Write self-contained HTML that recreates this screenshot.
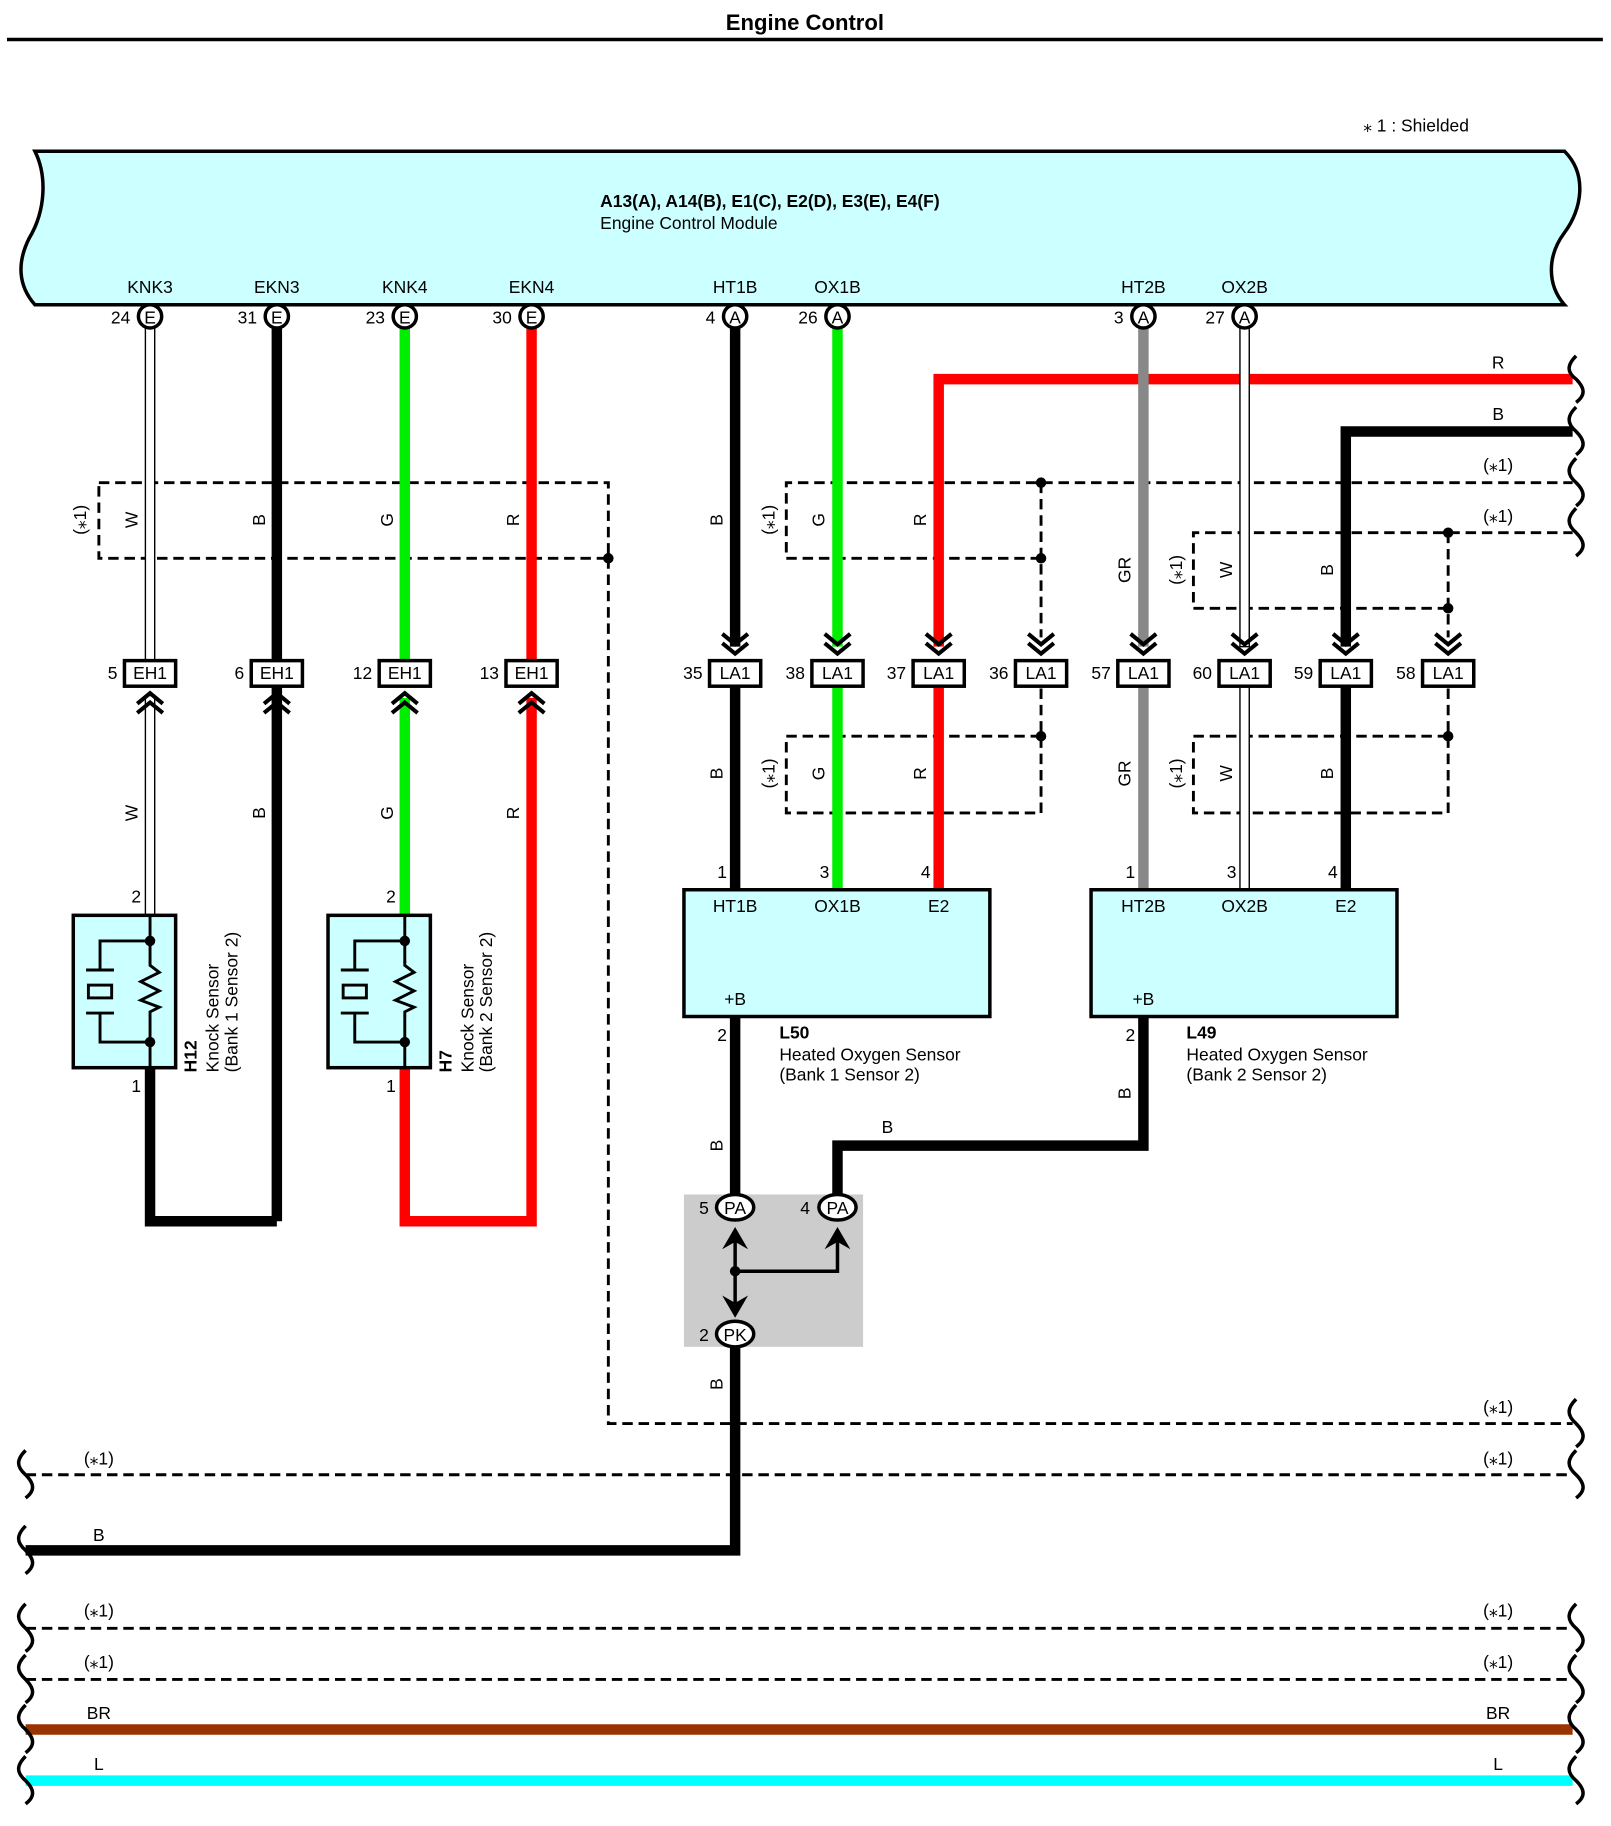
<!DOCTYPE html>
<html><head><meta charset="utf-8"><style>
html,body{margin:0;padding:0;background:#fff;}
svg{display:block;}
text{font-family:"Liberation Sans",Arial,sans-serif;font-size:15px;fill:#000;}
.b{font-weight:bold;}
.ds{fill:none;stroke:#000;stroke-width:2.5;stroke-dasharray:9,5;}
.wv{fill:none;stroke:#000;stroke-width:3;}
.ch{fill:none;stroke:#000;stroke-width:3.5;}
.bx{fill:#fff;stroke:#000;stroke-width:3;}
</style></head><body>
<svg width="1611" height="1826" viewBox="0 0 1385 1570" preserveAspectRatio="none" xmlns="http://www.w3.org/2000/svg">
<text x="692" y="26" text-anchor="middle" class="b" style="font-size:19px">Engine Control</text>
<line x1="6" y1="34" x2="1378" y2="34" stroke="#000" stroke-width="3"/>
<text x="1172" y="113">⁎ 1 : Shielded</text>

<path d="M30,130 L1345,130 C1365,150 1360,180 1345,200 C1330,220 1330,245 1345,262 L30,262 C15,245 15,225 25,205 C40,180 40,150 30,130 Z" fill="#ccffff" stroke="#000" stroke-width="3"/>
<text x="516" y="178" style="font-size:15px;font-weight:bold">A13(A), A14(B), E1(C), E2(D), E3(E), E4(F)</text>
<text x="516" y="197">Engine Control Module</text>
<g text-anchor="middle">
<text x="129" y="252">KNK3</text><text x="238" y="252">EKN3</text><text x="348" y="252">KNK4</text><text x="457" y="252">EKN4</text>
<text x="632" y="252">HT1B</text><text x="720" y="252">OX1B</text><text x="983" y="252">HT2B</text><text x="1070" y="252">OX2B</text>
</g>

<path class="ds" d="M85,415 H523 V480 H85 Z"/>
<path class="ds" d="M523,480 V1224 H1352"/>
<circle cx="523" cy="480" r="4.5"/>
<path class="ds" d="M895,480 H676 V415 H1352"/>
<path class="ds" d="M895,415 V548"/>
<circle cx="895" cy="415" r="4.5"/><circle cx="895" cy="480" r="4.5"/>
<path class="ds" d="M1245,523 H1026 V458 H1352"/>
<path class="ds" d="M1245,458 V548"/>
<circle cx="1245" cy="458" r="4.5"/><circle cx="1245" cy="523" r="4.5"/>
<path class="ds" d="M895,592 V699 H676 V633 H895"/>
<circle cx="895" cy="633" r="4.5"/>
<path class="ds" d="M1245,592 V699 H1026 V633 H1245"/>
<circle cx="1245" cy="633" r="4.5"/>
<path class="ds" d="M22,1268 H1352 M22,1400 H1352 M22,1444 H1352"/>

<g fill="none" stroke-width="9" stroke-linecap="butt">
<path stroke="#000" d="M238,282 V1050 M129,918 V1050 H238"/>
<path stroke="#00ee00" d="M348,282 V568 M348,600 V787"/>
<path stroke="#ff0000" d="M457,282 V568 M457,600 V1050 H348 V918"/>
<path stroke="#ff0000" d="M1352,326 H807 V556 M807,590 V765"/>
<path stroke="#000" d="M632,282 V556 M632,590 V765"/>
<path stroke="#00ee00" d="M720,282 V556 M720,590 V765"/>
<path stroke="#888" d="M983,282 V556 M983,590 V765"/>
<path stroke="#000" d="M1352,371 H1157 V556 M1157,590 V765"/>
<path stroke="#000" d="M632,874 V1030 M983,874 V985 H720 V1030"/>
<path stroke="#000" d="M632,1158 V1333 H22"/>
<path stroke="#993300" d="M22,1487 H1352"/>
<path stroke="#00ffff" d="M22,1531 H1352"/>
</g>
<g fill="#fff" stroke="#000" stroke-width="1.2">
<rect x="125" y="282" width="8" height="286"/>
<rect x="125" y="598" width="8" height="189"/>
<rect x="1066" y="282" width="8" height="274"/>
<rect x="1066" y="590" width="8" height="175"/>
</g>

<g fill="#fff" stroke="#000" stroke-width="3">
<circle cx="129" cy="272" r="10"/><circle cx="238" cy="272" r="10"/><circle cx="348" cy="272" r="10"/><circle cx="457" cy="272" r="10"/>
<circle cx="632" cy="272" r="10"/><circle cx="720" cy="272" r="10"/><circle cx="983" cy="272" r="10"/><circle cx="1070" cy="272" r="10"/>
</g>
<g text-anchor="middle">
<text x="129" y="278">E</text><text x="238" y="278">E</text><text x="348" y="278">E</text><text x="457" y="278">E</text>
<text x="632" y="278">A</text><text x="720" y="278">A</text><text x="983" y="278">A</text><text x="1070" y="278">A</text>
</g>
<g text-anchor="end">
<text x="112" y="278">24</text><text x="221" y="278">31</text><text x="331" y="278">23</text><text x="440" y="278">30</text>
<text x="615" y="278">4</text><text x="703" y="278">26</text><text x="966" y="278">3</text><text x="1053" y="278">27</text>
</g>

<g class="bx"><rect x="107" y="568" width="44" height="22"/><rect x="216" y="568" width="44" height="22"/><rect x="326" y="568" width="44" height="22"/><rect x="435" y="568" width="44" height="22"/></g>
<g text-anchor="middle"><text x="129" y="584">EH1</text><text x="238" y="584">EH1</text><text x="348" y="584">EH1</text><text x="457" y="584">EH1</text></g>
<g text-anchor="end"><text x="101" y="584">5</text><text x="210" y="584">6</text><text x="320" y="584">12</text><text x="429" y="584">13</text></g>
<g class="ch">
<path d="M118,605 L129,596 L140,605 M118,613 L129,604 L140,613"/>
<path d="M227,605 L238,596 L249,605 M227,613 L238,604 L249,613"/>
<path d="M337,605 L348,596 L359,605 M337,613 L348,604 L359,613"/>
<path d="M446,605 L457,596 L468,605 M446,613 L457,604 L468,613"/>
</g>

<g class="bx"><rect x="610" y="568" width="44" height="22"/><rect x="698" y="568" width="44" height="22"/><rect x="785" y="568" width="44" height="22"/><rect x="873" y="568" width="44" height="22"/>
<rect x="961" y="568" width="44" height="22"/><rect x="1048" y="568" width="44" height="22"/><rect x="1135" y="568" width="44" height="22"/><rect x="1223" y="568" width="44" height="22"/></g>
<g text-anchor="middle"><text x="632" y="584">LA1</text><text x="720" y="584">LA1</text><text x="807" y="584">LA1</text><text x="895" y="584">LA1</text>
<text x="983" y="584">LA1</text><text x="1070" y="584">LA1</text><text x="1157" y="584">LA1</text><text x="1245" y="584">LA1</text></g>
<g text-anchor="end"><text x="604" y="584">35</text><text x="692" y="584">38</text><text x="779" y="584">37</text><text x="867" y="584">36</text>
<text x="955" y="584">57</text><text x="1042" y="584">60</text><text x="1129" y="584">59</text><text x="1217" y="584">58</text></g>
<g class="ch">
<path d="M621,545 L632,554 L643,545 M621,553 L632,562 L643,553"/>
<path d="M709,545 L720,554 L731,545 M709,553 L720,562 L731,553"/>
<path d="M796,545 L807,554 L818,545 M796,553 L807,562 L818,553"/>
<path d="M884,545 L895,554 L906,545 M884,553 L895,562 L906,553"/>
<path d="M972,545 L983,554 L994,545 M972,553 L983,562 L994,553"/>
<path d="M1059,545 L1070,554 L1081,545 M1059,553 L1070,562 L1081,553"/>
<path d="M1146,545 L1157,554 L1168,545 M1146,553 L1157,562 L1168,553"/>
<path d="M1234,545 L1245,554 L1256,545 M1234,553 L1245,562 L1256,553"/>
</g>

<g>
<text transform="translate(74,447) rotate(-90)" text-anchor="middle">(⁎1)</text>
<text transform="translate(118,447) rotate(-90)" text-anchor="middle">W</text>
<text transform="translate(228,447) rotate(-90)" text-anchor="middle">B</text>
<text transform="translate(338,447) rotate(-90)" text-anchor="middle">G</text>
<text transform="translate(446,447) rotate(-90)" text-anchor="middle">R</text>
<text transform="translate(118,699) rotate(-90)" text-anchor="middle">W</text>
<text transform="translate(228,699) rotate(-90)" text-anchor="middle">B</text>
<text transform="translate(338,699) rotate(-90)" text-anchor="middle">G</text>
<text transform="translate(446,699) rotate(-90)" text-anchor="middle">R</text>
<text transform="translate(621,447) rotate(-90)" text-anchor="middle">B</text>
<text transform="translate(666,447) rotate(-90)" text-anchor="middle">(⁎1)</text>
<text transform="translate(709,447) rotate(-90)" text-anchor="middle">G</text>
<text transform="translate(796,447) rotate(-90)" text-anchor="middle">R</text>
<text transform="translate(972,490) rotate(-90)" text-anchor="middle">GR</text>
<text transform="translate(1016,490) rotate(-90)" text-anchor="middle">(⁎1)</text>
<text transform="translate(1059,490) rotate(-90)" text-anchor="middle">W</text>
<text transform="translate(1146,490) rotate(-90)" text-anchor="middle">B</text>
<text transform="translate(621,665) rotate(-90)" text-anchor="middle">B</text>
<text transform="translate(666,665) rotate(-90)" text-anchor="middle">(⁎1)</text>
<text transform="translate(709,665) rotate(-90)" text-anchor="middle">G</text>
<text transform="translate(796,665) rotate(-90)" text-anchor="middle">R</text>
<text transform="translate(972,665) rotate(-90)" text-anchor="middle">GR</text>
<text transform="translate(1016,665) rotate(-90)" text-anchor="middle">(⁎1)</text>
<text transform="translate(1059,665) rotate(-90)" text-anchor="middle">W</text>
<text transform="translate(1146,665) rotate(-90)" text-anchor="middle">B</text>
<text transform="translate(621,985) rotate(-90)" text-anchor="middle">B</text>
<text transform="translate(972,940) rotate(-90)" text-anchor="middle">B</text>
<text transform="translate(621,1190) rotate(-90)" text-anchor="middle">B</text>
</g>

<g text-anchor="middle">
<text x="1288" y="317">R</text><text x="1288" y="361">B</text>
<text x="1288" y="405">(⁎1)</text><text x="1288" y="449">(⁎1)</text>
<text x="1288" y="1215">(⁎1)</text>
<text x="85" y="1259">(⁎1)</text><text x="1288" y="1259">(⁎1)</text>
<text x="85" y="1325">B</text>
<text x="85" y="1390">(⁎1)</text><text x="1288" y="1390">(⁎1)</text>
<text x="85" y="1434">(⁎1)</text><text x="1288" y="1434">(⁎1)</text>
<text x="85" y="1478">BR</text><text x="1288" y="1478">BR</text>
<text x="85" y="1522">L</text><text x="1288" y="1522">L</text>
<text x="763" y="974">B</text>
</g>

<g class="wv">
<path d="M1355,306 c-8,8 -8,14 0,20 c8,8 8,14 0,20"/>
<path d="M1355,350 c-8,8 -8,14 0,21 c8,8 8,14 0,20"/>
<path d="M1355,394 c-8,8 -8,14 0,21 c8,8 8,14 0,20"/>
<path d="M1355,437 c-8,8 -8,14 0,21 c8,8 8,14 0,20"/>
<path d="M1355,1203 c-8,8 -8,14 0,21 c8,8 8,14 0,20"/>
<path d="M1355,1247 c-8,8 -8,14 0,21 c8,8 8,14 0,20"/>
<path d="M1355,1379 c-8,8 -8,14 0,21 c8,8 8,14 0,20"/>
<path d="M1355,1423 c-8,8 -8,14 0,21 c8,8 8,14 0,20"/>
<path d="M1355,1466 c-8,8 -8,14 0,21 c8,8 8,14 0,20"/>
<path d="M1355,1510 c-8,8 -8,14 0,21 c8,8 8,14 0,20"/>
<path d="M22,1247 c-8,8 -8,14 0,21 c8,8 8,14 0,20"/>
<path d="M22,1312 c-8,8 -8,14 0,21 c8,8 8,14 0,20"/>
<path d="M22,1379 c-8,8 -8,14 0,21 c8,8 8,14 0,20"/>
<path d="M22,1423 c-8,8 -8,14 0,21 c8,8 8,14 0,20"/>
<path d="M22,1466 c-8,8 -8,14 0,21 c8,8 8,14 0,20"/>
<path d="M22,1510 c-8,8 -8,14 0,21 c8,8 8,14 0,20"/>
</g>

<g>
<rect x="63" y="787" width="88" height="131" fill="#ccffff" stroke="#000" stroke-width="3"/>
<line x1="129" y1="787" x2="129" y2="918" stroke="#000" stroke-width="2.5"/>
<rect x="122" y="828" width="14" height="45" fill="#ccffff"/>
<path d="M129,826 L129,830 L137,836 L121,844 L137,852 L121,860 L137,866 L129,870 L129,874" fill="none" stroke="#000" stroke-width="2.5"/>
<path d="M129,809 H86 V834 M74,834 H98 M74,871 H98 M86,871 V896 H129" fill="none" stroke="#000" stroke-width="2.5"/>
<rect x="76" y="847" width="20" height="11" fill="none" stroke="#000" stroke-width="2.5"/>
<circle cx="129" cy="809" r="4.5"/><circle cx="129" cy="896" r="4.5"/>
</g>
<g transform="translate(219,0)">
<rect x="63" y="787" width="88" height="131" fill="#ccffff" stroke="#000" stroke-width="3"/>
<line x1="129" y1="787" x2="129" y2="918" stroke="#000" stroke-width="2.5"/>
<rect x="122" y="828" width="14" height="45" fill="#ccffff"/>
<path d="M129,826 L129,830 L137,836 L121,844 L137,852 L121,860 L137,866 L129,870 L129,874" fill="none" stroke="#000" stroke-width="2.5"/>
<path d="M129,809 H86 V834 M74,834 H98 M74,871 H98 M86,871 V896 H129" fill="none" stroke="#000" stroke-width="2.5"/>
<rect x="76" y="847" width="20" height="11" fill="none" stroke="#000" stroke-width="2.5"/>
<circle cx="129" cy="809" r="4.5"/><circle cx="129" cy="896" r="4.5"/>
</g>
<text x="113" y="776">2</text><text x="113" y="939">1</text>
<text x="332" y="776">2</text><text x="332" y="939">1</text>
<text transform="translate(169,922) rotate(-90)" class="b">H12</text>
<text transform="translate(188,922) rotate(-90)">Knock Sensor</text>
<text transform="translate(204,922) rotate(-90)">(Bank 1 Sensor 2)</text>
<text transform="translate(388,922) rotate(-90)" class="b">H7</text>
<text transform="translate(407,922) rotate(-90)">Knock Sensor</text>
<text transform="translate(423,922) rotate(-90)">(Bank 2 Sensor 2)</text>

<rect x="588" y="765" width="263" height="109" fill="#ccffff" stroke="#000" stroke-width="3"/>
<rect x="938" y="765" width="263" height="109" fill="#ccffff" stroke="#000" stroke-width="3"/>
<g text-anchor="middle">
<text x="632" y="784">HT1B</text><text x="720" y="784">OX1B</text><text x="807" y="784">E2</text><text x="632" y="864">+B</text>
<text x="983" y="784">HT2B</text><text x="1070" y="784">OX2B</text><text x="1157" y="784">E2</text><text x="983" y="864">+B</text>
</g>
<g text-anchor="end">
<text x="625" y="755">1</text><text x="713" y="755">3</text><text x="800" y="755">4</text><text x="625" y="895">2</text>
<text x="976" y="755">1</text><text x="1063" y="755">3</text><text x="1150" y="755">4</text><text x="976" y="895">2</text>
</g>
<text x="670" y="893" class="b">L50</text>
<text x="670" y="912">Heated Oxygen Sensor</text>
<text x="670" y="929">(Bank 1 Sensor 2)</text>
<text x="1020" y="893" class="b">L49</text>
<text x="1020" y="912">Heated Oxygen Sensor</text>
<text x="1020" y="929">(Bank 2 Sensor 2)</text>

<rect x="588" y="1027" width="154" height="131" fill="#cccccc"/>
<path d="M632,1062 V1128 M632,1093 H720 V1062" fill="none" stroke="#000" stroke-width="3"/>
<circle cx="632" cy="1093" r="4.5"/>
<path d="M625,1070 L632,1058 L639,1070 L632,1066 Z M713,1070 L720,1058 L727,1070 L720,1066 Z M625,1118 L632,1130 L639,1118 L632,1122 Z" stroke="#000" stroke-width="3"/>
<g fill="#fff" stroke="#000" stroke-width="3">
<ellipse cx="632" cy="1038" rx="16" ry="11"/><ellipse cx="720" cy="1038" rx="16" ry="11"/><ellipse cx="632" cy="1147" rx="16" ry="11"/>
</g>
<g text-anchor="middle"><text x="632" y="1044">PA</text><text x="720" y="1044">PA</text><text x="632" y="1153">PK</text></g>
<text x="601" y="1044">5</text><text x="688" y="1044">4</text><text x="601" y="1153">2</text>
</svg>
</body></html>
